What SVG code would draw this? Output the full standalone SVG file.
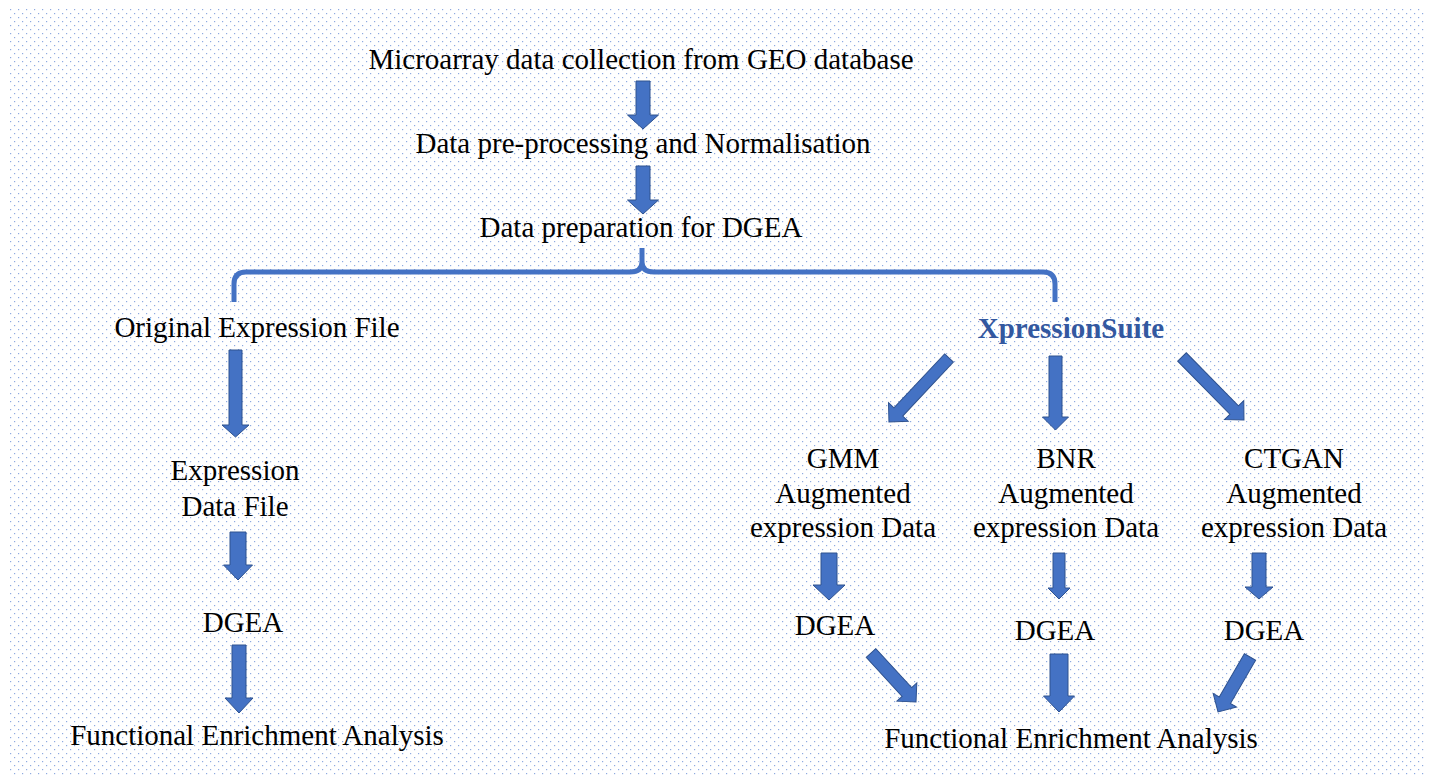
<svg xmlns="http://www.w3.org/2000/svg" width="1429" height="778" viewBox="0 0 1429 778">
<defs>
<pattern id="dots" x="8" y="8" width="8" height="8" patternUnits="userSpaceOnUse">
<rect x="2" y="1" width="1.2" height="1.2" fill="#8eaae0"/>
<rect x="6" y="5" width="1.2" height="1.2" fill="#8eaae0"/>
</pattern>
<style>
.t{font-family:"Liberation Serif","Times New Roman",serif;font-size:29px;fill:#000;text-anchor:middle}
.xs{font-family:"Liberation Serif","Times New Roman",serif;font-size:29px;font-weight:bold;fill:#3358a0;text-anchor:middle}
.ar{fill:#4472c4;stroke:#2f528f;stroke-width:1}
.br{fill:none;stroke:#4472c4;stroke-width:5;stroke-linejoin:round}
</style>
</defs>
<rect x="0" y="0" width="1429" height="778" fill="#ffffff"/>
<rect x="8" y="8" width="1416" height="768" fill="url(#dots)"/>

<g id="n-microarray"><text class="t" x="641" y="69">Microarray data collection from GEO database</text></g>
<g id="n-preprocess"><text class="t" x="643" y="153">Data pre-processing and Normalisation</text></g>
<g id="n-prep"><text class="t" x="641" y="237">Data preparation for DGEA</text></g>
<g id="n-original"><text class="t" x="257" y="337">Original Expression File</text></g>
<g id="n-xs"><text class="xs" x="1071" y="338">XpressionSuite</text></g>
<g id="n-exprfile"><text class="t" x="235" y="480">Expression</text><text class="t" x="235" y="516">Data File</text></g>
<g id="n-dgea-left"><text class="t" x="243" y="632">DGEA</text></g>
<g id="n-fea-left"><text class="t" x="257" y="745">Functional Enrichment Analysis</text></g>
<g id="n-gmm"><text class="t" x="843" y="468">GMM</text><text class="t" x="843" y="503">Augmented</text><text class="t" x="843" y="537">expression Data</text></g>
<g id="n-bnr"><text class="t" x="1066" y="468">BNR</text><text class="t" x="1066" y="503">Augmented</text><text class="t" x="1066" y="537">expression Data</text></g>
<g id="n-ctgan"><text class="t" x="1294" y="468">CTGAN</text><text class="t" x="1294" y="503">Augmented</text><text class="t" x="1294" y="537">expression Data</text></g>
<g id="n-dgea-gmm"><text class="t" x="835" y="635">DGEA</text></g>
<g id="n-dgea-bnr"><text class="t" x="1055" y="640">DGEA</text></g>
<g id="n-dgea-ctgan"><text class="t" x="1264" y="640">DGEA</text></g>
<g id="n-fea-right"><text class="t" x="1071" y="748">Functional Enrichment Analysis</text></g>

<g id="connectors">
<path class="br" d="M234 302 L234 284 Q234 272 246 272 L630 272 Q642 272 642 262 L642 248 M642 262 Q642 272 654 272 L1043 272 Q1055 272 1055 284 L1055 302"/>
<polygon class="ar" points="636,81 650,81 650,115 658.5,115 643,129 627.5,115 636,115"/>
<polygon class="ar" points="636,166 650,166 650,200 658.5,200 643,214 627.5,200 636,200"/>
<polygon class="ar" points="229,350 242,350 242,425 249,425 235.5,437 222,425 229,425"/>
<polygon class="ar" points="230,532 246,532 246,565 252.5,565 238,580 223.5,565 230,565"/>
<polygon class="ar" points="232,645 246,645 246,698 253,698 239,713 225,698 232,698"/>
<polygon class="ar" points="1049,356 1062,356 1062,417 1068.5,417 1055.5,430 1042.5,417 1049,417"/>
<polygon class="ar" points="821,553 837,553 837,585 845,585 829,600 813,585 821,585"/>
<polygon class="ar" points="1053,553 1065,553 1065,588 1070,588 1059,599 1048,588 1053,588"/>
<polygon class="ar" points="1252,553 1266,553 1266,587 1273,587 1259,599 1245,587 1252,587"/>
<polygon class="ar" points="1050,654 1068,654 1068,696 1074.5,696 1059,712 1043.5,696 1050,696"/>
<polygon class="ar" transform="translate(949,358) rotate(43.2)" points="-6,0 6,0 6,74 13.5,74 0,87.7 -13.5,74 -6,74"/>
<polygon class="ar" transform="translate(1182,357) rotate(-44.5)" points="-6,0 6,0 6,74.4 13.5,74.4 0,88.4 -13.5,74.4 -6,74.4"/>
<polygon class="ar" transform="translate(871,653) rotate(-42.6)" points="-6.5,0 6.5,0 6.5,53 13.5,53 0,66.5 -13.5,53 -6.5,53"/>
<polygon class="ar" transform="translate(1250,657) rotate(30.2)" points="-6.5,0 6.5,0 6.5,50 13.5,50 0,63.6 -13.5,50 -6.5,50"/>
</g>
</svg>
